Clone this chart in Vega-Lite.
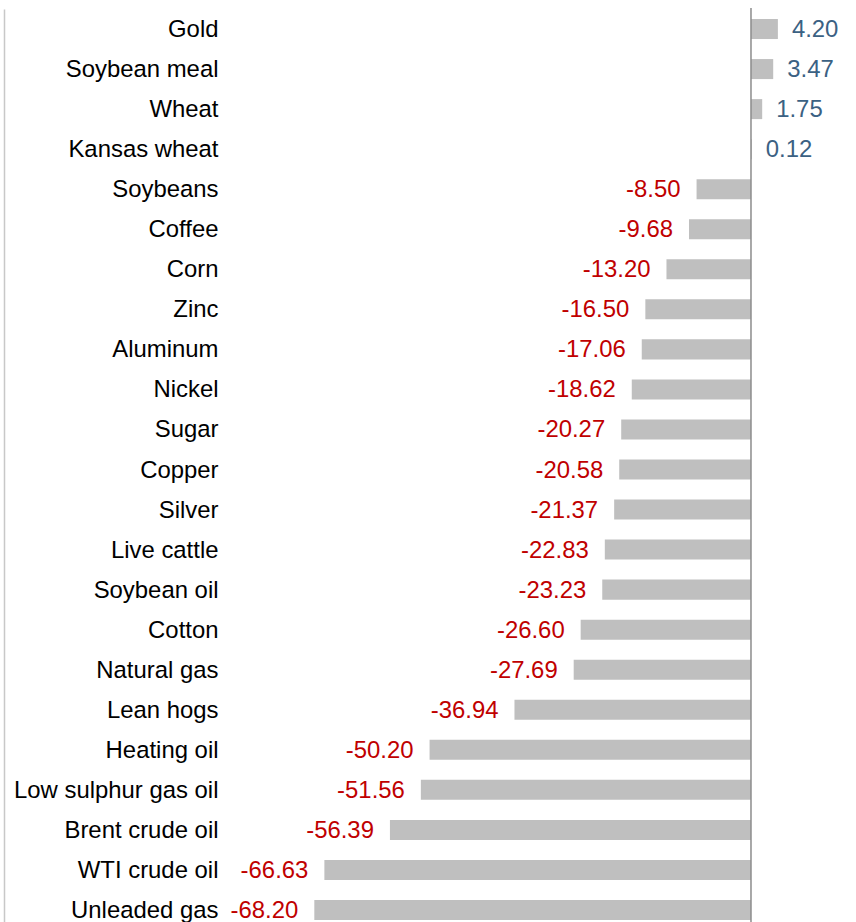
{
  "$schema": "https://vega.github.io/schema/vega-lite/v6.json",
  "width": 626,
  "height": 921,
  "autosize": {"type": "none"},
  "padding": {"left": 225, "top": 9, "right": 5, "bottom": 0},
  "background": "white",
  "config": {
    "view": {"stroke": null},
    "font": "Liberation Sans"
  },
  "data": {
    "values": [
      {"commodity": "Gold", "value": 4.20},
      {"commodity": "Soybean meal", "value": 3.47},
      {"commodity": "Wheat", "value": 1.75},
      {"commodity": "Kansas wheat", "value": 0.12},
      {"commodity": "Soybeans", "value": -8.50},
      {"commodity": "Coffee", "value": -9.68},
      {"commodity": "Corn", "value": -13.20},
      {"commodity": "Zinc", "value": -16.50},
      {"commodity": "Aluminum", "value": -17.06},
      {"commodity": "Nickel", "value": -18.62},
      {"commodity": "Sugar", "value": -20.27},
      {"commodity": "Copper", "value": -20.58},
      {"commodity": "Silver", "value": -21.37},
      {"commodity": "Live cattle", "value": -22.83},
      {"commodity": "Soybean oil", "value": -23.23},
      {"commodity": "Cotton", "value": -26.60},
      {"commodity": "Natural gas", "value": -27.69},
      {"commodity": "Lean hogs", "value": -36.94},
      {"commodity": "Heating oil", "value": -50.20},
      {"commodity": "Low sulphur gas oil", "value": -51.56},
      {"commodity": "Brent crude oil", "value": -56.39},
      {"commodity": "WTI crude oil", "value": -66.63},
      {"commodity": "Unleaded gas", "value": -68.20}
    ]
  },
  "transform": [
    {"calculate": "replace(format(datum.value, '.2f'), '\u2212', '-')", "as": "label"}
  ],
  "encoding": {
    "y": {
      "field": "commodity",
      "type": "nominal",
      "sort": ["Gold", "Soybean meal", "Wheat", "Kansas wheat", "Soybeans", "Coffee", "Corn", "Zinc", "Aluminum", "Nickel", "Sugar", "Copper", "Silver", "Live cattle", "Soybean oil", "Cotton", "Natural gas", "Lean hogs", "Heating oil", "Low sulphur gas oil", "Brent crude oil", "WTI crude oil", "Unleaded gas"],
      "scale": {"paddingInner": 0.5, "paddingOuter": 0.25},
      "title": null
    }
  },
  "resolve": {"axis": {"y": "independent"}},
  "layer": [
    {
      "mark": {"type": "bar", "color": "#bfbfbf"},
      "encoding": {
        "x": {
          "field": "value",
          "type": "quantitative",
          "scale": {"domain": [-82.15, 15.62], "nice": false, "zero": false},
          "axis": null
        },
        "y": {
          "field": "commodity",
          "type": "nominal",
          "sort": ["Gold", "Soybean meal", "Wheat", "Kansas wheat", "Soybeans", "Coffee", "Corn", "Zinc", "Aluminum", "Nickel", "Sugar", "Copper", "Silver", "Live cattle", "Soybean oil", "Cotton", "Natural gas", "Lean hogs", "Heating oil", "Low sulphur gas oil", "Brent crude oil", "WTI crude oil", "Unleaded gas"],
          "title": null,
          "axis": {
            "orient": "left",
            "domain": false,
            "ticks": false,
            "grid": false,
            "labelPadding": 7,
            "labelOffset": 1,
            "labelFontSize": 23.9,
            "labelColor": "#000000",
            "labelFont": "Liberation Sans",
            "labelLimit": 400
          }
        }
      }
    },
    {
      "transform": [{"filter": "datum.value >= 0"}],
      "mark": {"type": "text", "align": "left", "baseline": "middle", "dx": 14, "dy": 1, "fontSize": 23.9, "color": "#3b6183"},
      "encoding": {
        "x": {"field": "value", "type": "quantitative"},
        "y": {
          "field": "commodity",
          "type": "nominal",
          "sort": ["Gold", "Soybean meal", "Wheat", "Kansas wheat", "Soybeans", "Coffee", "Corn", "Zinc", "Aluminum", "Nickel", "Sugar", "Copper", "Silver", "Live cattle", "Soybean oil", "Cotton", "Natural gas", "Lean hogs", "Heating oil", "Low sulphur gas oil", "Brent crude oil", "WTI crude oil", "Unleaded gas"],
          "title": null,
          "axis": {
            "orient": "left",
            "domain": true,
            "domainColor": "#c8c8c8",
            "domainWidth": 1.5,
            "offset": 221,
            "labels": false,
            "ticks": false,
            "grid": false
          }
        },
        "text": {"field": "label", "type": "nominal"}
      }
    },
    {
      "transform": [{"filter": "datum.value < 0"}],
      "mark": {"type": "text", "align": "right", "baseline": "middle", "dx": -16, "dy": 1, "fontSize": 23.9, "color": "#c00000"},
      "encoding": {
        "x": {"field": "value", "type": "quantitative"},
        "y": {
          "field": "commodity",
          "type": "nominal",
          "sort": ["Gold", "Soybean meal", "Wheat", "Kansas wheat", "Soybeans", "Coffee", "Corn", "Zinc", "Aluminum", "Nickel", "Sugar", "Copper", "Silver", "Live cattle", "Soybean oil", "Cotton", "Natural gas", "Lean hogs", "Heating oil", "Low sulphur gas oil", "Brent crude oil", "WTI crude oil", "Unleaded gas"],
          "axis": null
        },
        "text": {"field": "label", "type": "nominal"}
      }
    },
    {
      "data": {"values": [{"zero": 0}]},
      "mark": {"type": "rule", "color": "#8c8c8c", "strokeWidth": 1.5},
      "encoding": {
        "x": {"field": "zero", "type": "quantitative"},
        "y": {"value": -1},
        "y2": {"value": 921}
      }
    }
  ]
}
